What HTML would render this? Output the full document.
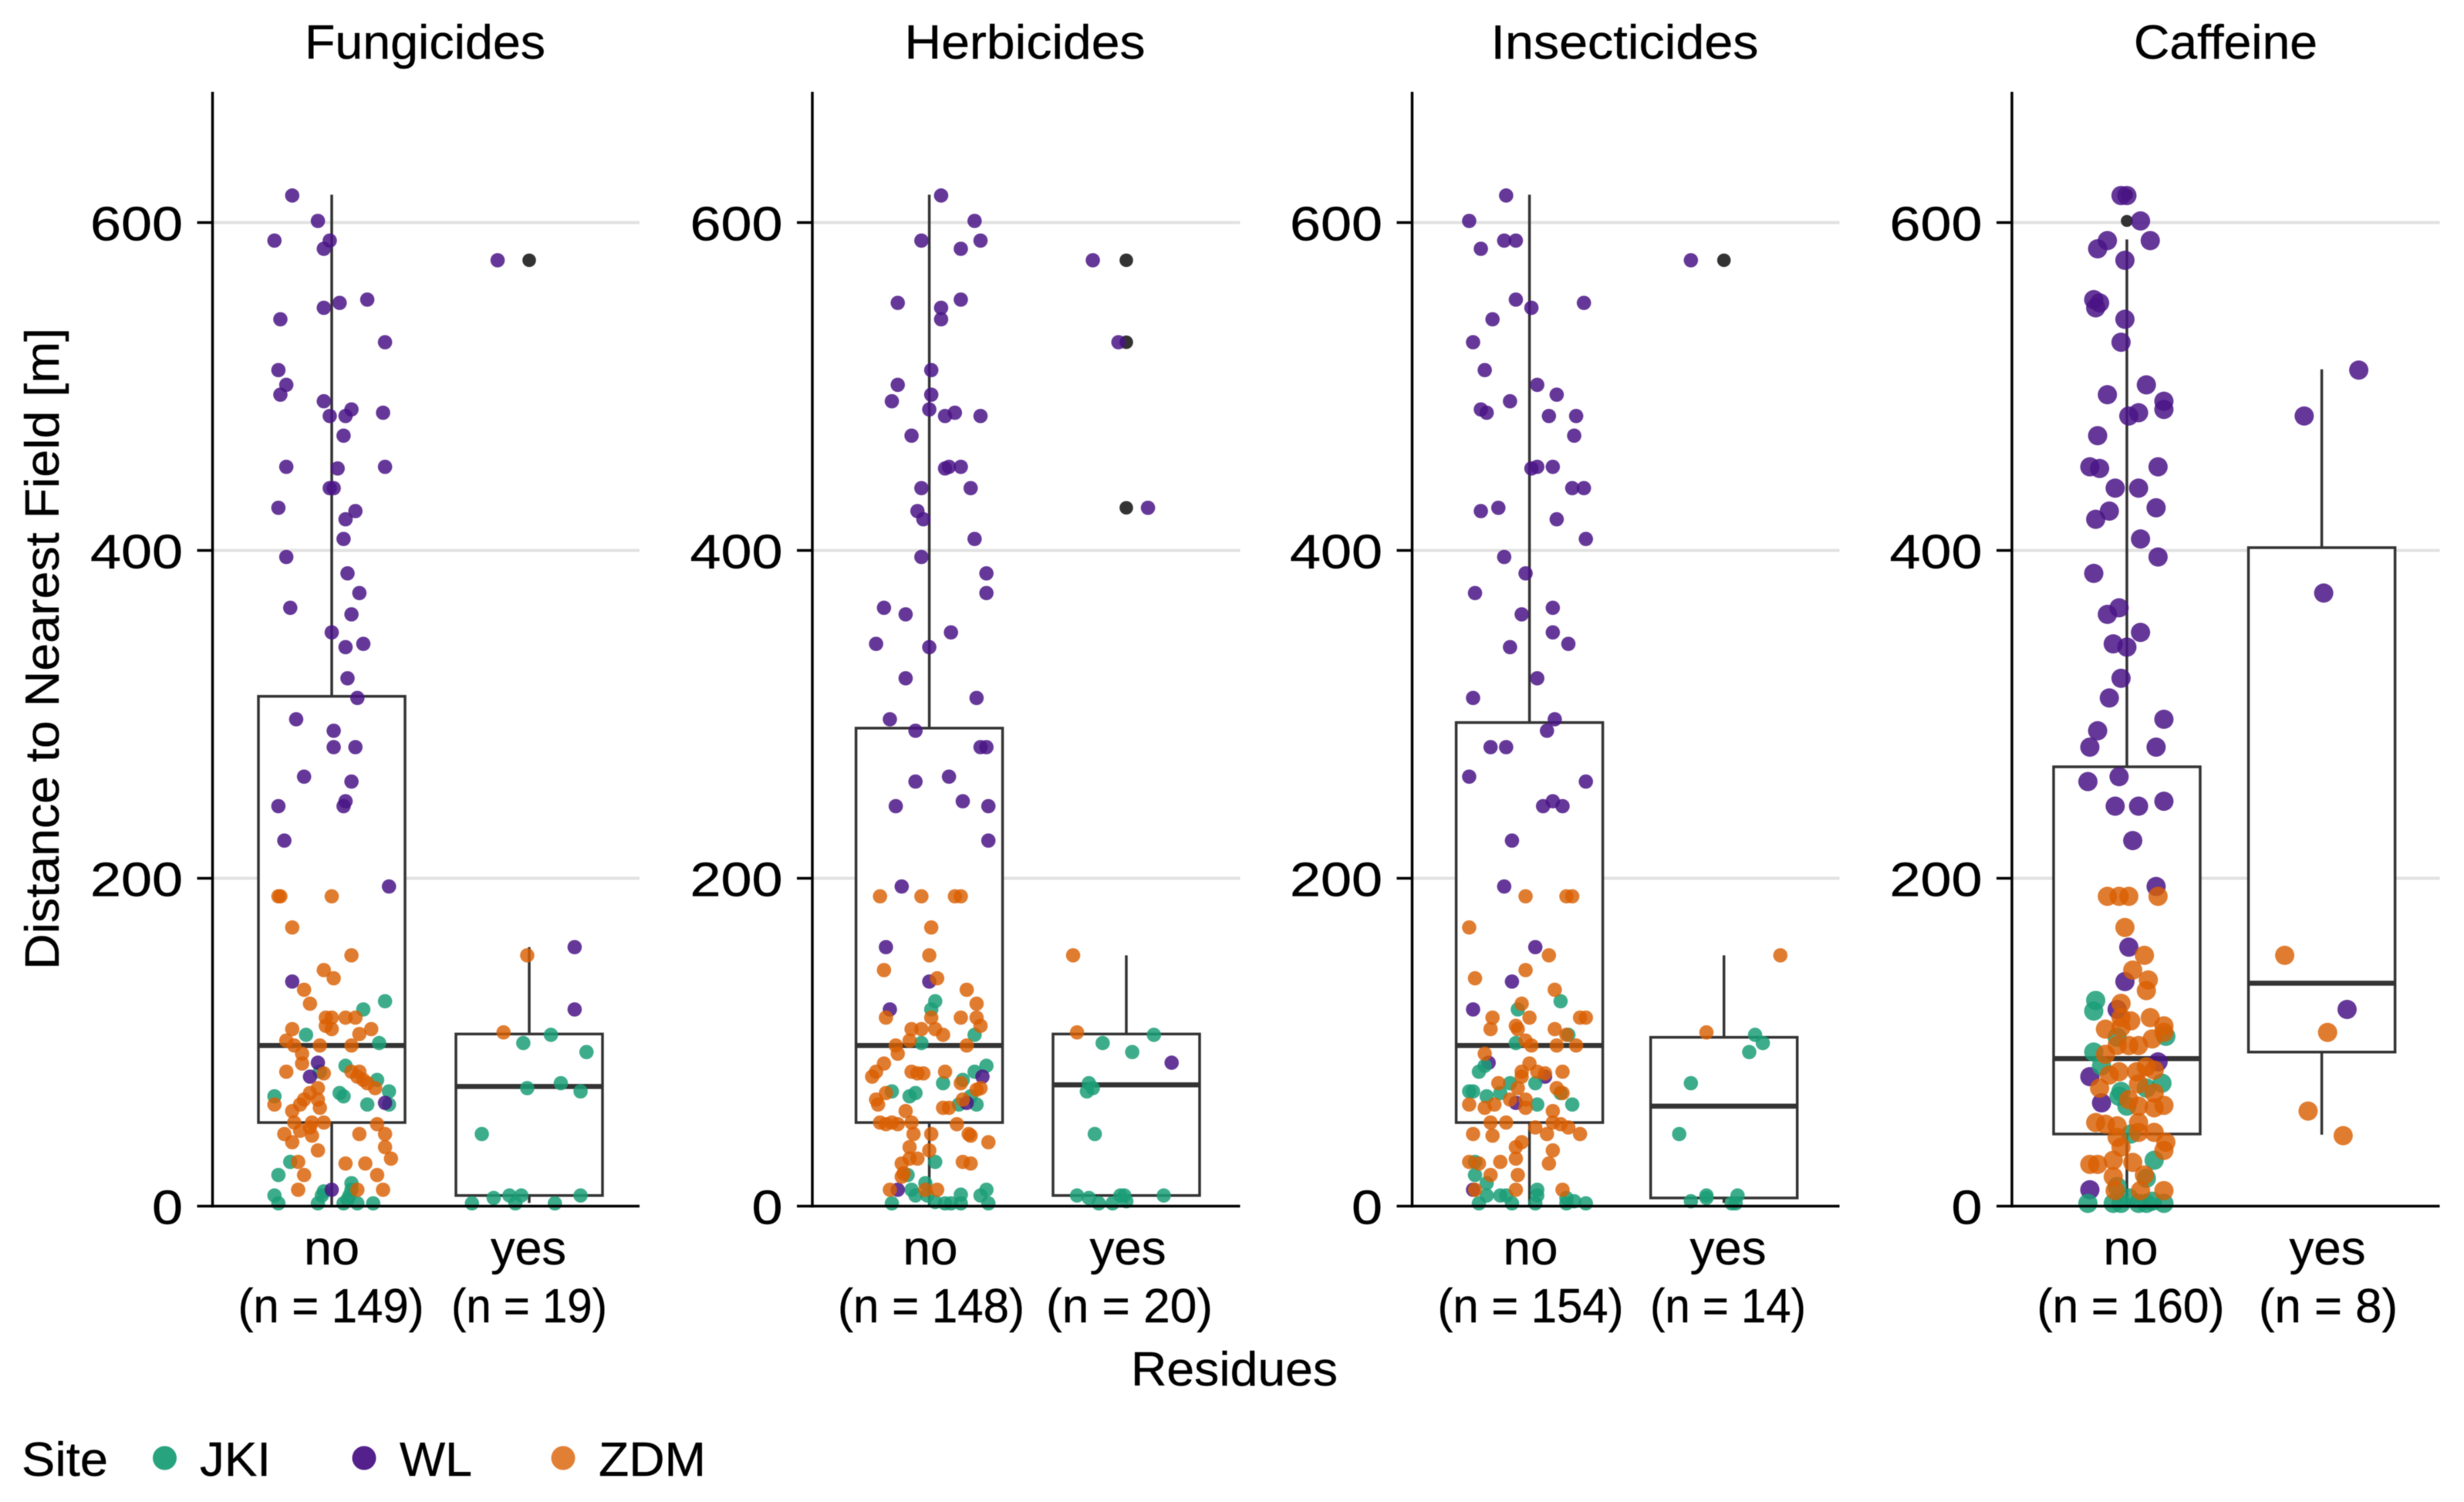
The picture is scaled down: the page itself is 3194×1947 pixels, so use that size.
<!DOCTYPE html>
<html lang="en">
<head>
<meta charset="utf-8">
<title>Distance to Nearest Field by Residues</title>
<style>
html,body{margin:0;padding:0;background:#fff;width:3194px;height:1947px;overflow:hidden}
svg{display:block;filter:blur(0.6px)}
text{font-family:"Liberation Sans",sans-serif;fill:#000;stroke:#000;stroke-width:0.4px;font-size:62px}
</style>
</head>
<body>
<svg id="chart" xmlns="http://www.w3.org/2000/svg" width="3194" height="1947" viewBox="0 0 3194 1947">
  <rect x="0" y="0" width="3194" height="1947" fill="#fff"/>
  <g id="panels"></g>

  <text x="551" y="76" text-anchor="middle" textLength="312" lengthAdjust="spacingAndGlyphs">Fungicides</text>
  <text x="1328.5" y="76" text-anchor="middle" textLength="312" lengthAdjust="spacingAndGlyphs">Herbicides</text>
  <text x="2106" y="76" text-anchor="middle" textLength="347" lengthAdjust="spacingAndGlyphs">Insecticides</text>
  <text x="2885" y="76" text-anchor="middle" textLength="238" lengthAdjust="spacingAndGlyphs">Caffeine</text>

  <text x="0" y="0" transform="translate(76 841) rotate(-90)" text-anchor="middle" textLength="832" lengthAdjust="spacingAndGlyphs">Distance to Nearest Field [m]</text>

  <text x="430" y="1639" text-anchor="middle" textLength="72" lengthAdjust="spacingAndGlyphs">no</text>
  <text x="685" y="1639" text-anchor="middle" textLength="98" lengthAdjust="spacingAndGlyphs">yes</text>
  <text x="429" y="1714" text-anchor="middle" textLength="241" lengthAdjust="spacingAndGlyphs">(n = 149)</text>
  <text x="686" y="1714" text-anchor="middle" textLength="202" lengthAdjust="spacingAndGlyphs">(n = 19)</text>

  <text x="1206" y="1639" text-anchor="middle" textLength="71" lengthAdjust="spacingAndGlyphs">no</text>
  <text x="1462" y="1639" text-anchor="middle" textLength="99" lengthAdjust="spacingAndGlyphs">yes</text>
  <text x="1207" y="1714" text-anchor="middle" textLength="242" lengthAdjust="spacingAndGlyphs">(n = 148)</text>
  <text x="1464" y="1714" text-anchor="middle" textLength="216" lengthAdjust="spacingAndGlyphs">(n = 20)</text>

  <text x="1984" y="1639" text-anchor="middle" textLength="71" lengthAdjust="spacingAndGlyphs">no</text>
  <text x="2240" y="1639" text-anchor="middle" textLength="99" lengthAdjust="spacingAndGlyphs">yes</text>
  <text x="1984" y="1714" text-anchor="middle" textLength="241" lengthAdjust="spacingAndGlyphs">(n = 154)</text>
  <text x="2240" y="1714" text-anchor="middle" textLength="202" lengthAdjust="spacingAndGlyphs">(n = 14)</text>

  <text x="2762" y="1639" text-anchor="middle" textLength="71" lengthAdjust="spacingAndGlyphs">no</text>
  <text x="3017" y="1639" text-anchor="middle" textLength="99" lengthAdjust="spacingAndGlyphs">yes</text>
  <text x="2762" y="1714" text-anchor="middle" textLength="243" lengthAdjust="spacingAndGlyphs">(n = 160)</text>
  <text x="3018" y="1714" text-anchor="middle" textLength="180" lengthAdjust="spacingAndGlyphs">(n = 8)</text>

  <text x="1600" y="1796" text-anchor="middle" textLength="268" lengthAdjust="spacingAndGlyphs">Residues</text>

  <g>
    <text x="28" y="1913" textLength="112" lengthAdjust="spacingAndGlyphs">Site</text>
    <circle cx="213.5" cy="1890" r="15.5" fill="#1b9e77" fill-opacity="0.95"/>
    <text x="259" y="1913" textLength="92" lengthAdjust="spacingAndGlyphs">JKI</text>
    <circle cx="472" cy="1890" r="15.5" fill="#4a1486" fill-opacity="0.95"/>
    <text x="518" y="1913" textLength="94" lengthAdjust="spacingAndGlyphs">WL</text>
    <circle cx="730" cy="1890" r="15.5" fill="#d95f02" fill-opacity="0.8"/>
    <text x="776" y="1913" textLength="139" lengthAdjust="spacingAndGlyphs">ZDM</text>
  </g>
</svg>

<script>
// ---------- DATA: y axis ticks ----------
const yTickValues = [0, 200, 400, 600];

// ---------- DATA: box statistics [low whisker, q1, median, q3, high whisker] ----------
const fungicidesNoBox = [0, 51, 98, 311, 617];
const fungicidesYesBox = [2, 6.5, 73, 105, 158];
const herbicidesNoBox = [0, 51, 98, 291.6, 617];
const herbicidesYesBox = [2, 6.5, 74, 105, 153];
const insecticidesNoBox = [0, 51, 98, 295, 617];
const insecticidesYesBox = [2, 5, 61, 103, 153];
const caffeineNoBox = [0, 44, 90, 268, 589.7];
const caffeineYesBox = [43.6, 94, 136, 401.7, 510.5];

// ---------- DATA: box outliers (metres) ----------
const fungicidesNoOutliers = [];
const fungicidesYesOutliers = [577];
const herbicidesNoOutliers = [];
const herbicidesYesOutliers = [577, 527, 426];
const insecticidesNoOutliers = [];
const insecticidesYesOutliers = [577];
const caffeineNoOutliers = [617, 601];
const caffeineYesOutliers = [];

// ---------- DATA: samples as [jitter in category units, distance in metres] ----------
const fungicidesNoWL = [[-0.20,616.5],[-0.07,601],[-0.29,589],[-0.01,589],[-0.04,584],[0.18,553],[0.04,551],[-0.04,548],[-0.26,541],[0.27,527],[-0.27,510],[-0.23,501],[-0.26,495],[-0.04,491],[0.10,486],[0.26,484],[-0.01,482],[0.07,482],[0.06,470],[-0.23,451],[0.27,451],[0.03,450],[-0.01,438],[0.01,438],[-0.27,426],[0.12,424],[0.07,419],[0.06,407],[-0.23,396],[0.08,386],[0.14,374],[-0.21,365],[0.10,361],[0,350],[0.16,343],[0.07,341],[0.08,322],[0.13,310],[-0.18,297],[0.01,290],[0.01,280],[0.12,280],[-0.14,262],[0.10,259],[0.07,247],[0.06,244],[-0.27,244],[-0.24,223],[0.29,195],[-0.20,137],[-0.07,87.5],[-0.11,79],[0.27,63],[0,10]];
const fungicidesYesWL = [[-0.16,577],[0.23,158],[0.23,120]];
const fungicidesNoZDM = [[-0.27,189],[-0.26,189],[0,189],[-0.20,170],[0.10,153],[-0.04,144],[0.01,139],[-0.14,132],[-0.11,123.5],[-0.03,115],[0,115],[0.07,115],[0.12,115],[-0.03,110],[-0.20,108],[0,108],[0.20,108],[0.14,105],[-0.23,101],[-0.06,98],[0.10,98],[-0.19,98],[-0.15,93],[-0.15,87],[-0.23,82],[0.10,82],[0.14,82],[0.13,79],[-0.04,81],[0.16,77],[0.18,75],[0.22,72],[-0.07,72],[-0.11,69],[-0.14,65],[-0.07,65],[-0.29,62],[-0.16,62],[-0.06,60],[-0.20,58],[-0.19,51],[-0.10,51],[-0.04,51],[0.23,50],[-0.16,46],[-0.11,48],[-0.24,44],[0.14,44],[0.27,44],[-0.10,43],[-0.20,39],[0.27,36],[-0.07,34],[0.30,29],[-0.17,27],[0.07,26],[0.17,26],[-0.14,19],[0.23,19],[-0.17,10],[0.13,10],[0.26,10]];
const fungicidesYesZDM = [[-0.01,153],[-0.13,106]];
const fungicidesNoJKI = [[0.27,125],[0.16,120],[-0.13,104.5],[0.24,99.5],[0.07,85.6],[-0.06,82],[0.23,77],[0.29,70],[0.04,69],[0.06,67],[-0.29,67],[0.18,62],[0.29,62],[-0.21,27],[-0.27,19],[0.10,14],[-0.29,6.5],[-0.04,9],[0.10,10],[-0.05,6.5],[0.09,6.5],[-0.27,1.7],[-0.07,1.7],[0.06,1.7],[0.13,1.7],[0.21,1.7],[0.08,4]];
const fungicidesYesJKI = [[0.11,104.5],[-0.03,99.5],[0.29,94],[0.16,75],[-0.01,72],[0.26,70],[-0.24,44],[-0.18,5],[-0.10,6.5],[-0.04,6.5],[0.26,6.5],[-0.29,1.7],[-0.07,1.7],[0.13,1.7]];

const herbicidesNoWL = [[0.06,616.5],[0.23,601],[-0.04,589],[0.26,589],[0.16,584],[0.16,553],[-0.16,551],[0.06,548],[0.06,541],[0.01,510],[-0.16,501],[0.01,495],[-0.19,491],[0,486],[0.13,484],[0.08,482],[0.26,482],[-0.09,470],[0.16,451],[0.10,451],[0.08,450],[-0.04,438],[0.21,438],[-0.06,424],[-0.03,419],[0.23,407],[-0.04,396],[0.29,386],[0.29,374],[-0.23,365],[-0.12,361],[0.11,350],[-0.27,343],[0,341],[-0.12,322],[0.24,310],[-0.20,297],[-0.07,290],[0.26,280],[0.29,280],[0.10,262],[-0.07,259],[0.17,247],[-0.17,244],[0.30,244],[0.30,223],[-0.14,195],[-0.22,158],[0,137],[-0.20,120],[0.27,79],[0.19,63],[-0.16,10]];
const herbicidesYesWL = [[-0.17,577],[-0.04,527],[0.11,426],[0.23,87.5]];
const herbicidesNoZDM = [[-0.25,189],[-0.04,189],[0.13,189],[0.16,189],[0.01,170],[0,153],[-0.23,144],[0.04,139],[0.19,132],[0.24,123.5],[-0.22,115],[0.01,115],[0.16,115],[0.24,115],[0.26,110],[-0.09,108],[-0.04,108],[0.03,108],[0.07,104.5],[-0.10,101],[-0.17,98],[0.19,98],[-0.16,93],[-0.23,87],[-0.27,82],[-0.09,82],[-0.06,81],[0.08,82],[-0.29,79],[-0.03,81],[0.16,75],[0.26,72],[0.24,71],[-0.22,69],[-0.27,65],[0.17,65],[-0.26,62],[0.07,60],[0.10,60],[-0.12,58],[-0.25,51],[-0.19,51],[-0.22,50],[-0.16,50],[-0.09,51],[0.14,50],[-0.08,44],[0.01,44],[0.20,44],[0.21,43],[0.30,39],[-0.10,36],[0,34],[-0.10,29],[-0.06,29],[-0.14,26],[0.17,27],[0.21,26],[-0.13,20],[-0.14,18],[-0.20,10],[-0.02,10],[0.04,10]];
const herbicidesYesZDM = [[-0.27,153],[-0.25,106]];
const herbicidesNoJKI = [[0.03,125],[0.01,120],[0.23,104.5],[-0.04,99.5],[0.29,85.6],[0.23,82],[0.17,77],[0.07,75],[-0.19,70],[-0.07,69],[-0.10,67],[0.21,67],[0.24,62],[0.15,62],[0.03,27],[-0.11,19],[-0.02,14],[-0.09,10],[0.29,10],[0.16,7],[-0.07,6.5],[0.26,6.5],[-0.01,6.5],[-0.19,1.7],[0.03,2.5],[0.08,1.7],[0.11,1.7],[0.16,1.7],[0.30,1.7]];
const herbicidesYesJKI = [[0.14,104.5],[-0.12,99.5],[0.03,94],[-0.19,75],[-0.17,72],[-0.20,70],[-0.16,44],[-0.25,6.5],[-0.19,5],[-0.03,6.5],[0.19,6.5],[-0.14,1.7],[-0.07,1.7],[0,3],[-0.01,6.5]];

const insecticidesNoWL = [[-0.12,616.5],[-0.31,601],[-0.13,589],[-0.07,589],[-0.25,584],[-0.07,553],[0.28,551],[0.01,548],[-0.19,541],[-0.29,527],[-0.23,510],[0.04,501],[0.14,495],[-0.10,491],[-0.25,486],[-0.22,484],[0.10,482],[0.24,482],[0.23,470],[0.04,451],[0.12,451],[0.01,450],[0.22,438],[0.28,438],[-0.16,426],[-0.25,424],[0.14,419],[0.29,407],[-0.13,396],[-0.02,386],[-0.28,374],[0.12,365],[-0.04,361],[0.12,350],[0.20,343],[-0.10,341],[0.04,322],[-0.29,310],[0.13,297],[0.09,290],[-0.20,280],[-0.12,280],[-0.31,262],[0.29,259],[0.12,247],[0.07,244],[0.17,244],[-0.09,223],[-0.13,195],[0.03,158],[-0.09,137],[-0.29,120],[-0.21,87.5],[0.08,79],[-0.07,63],[-0.29,10]];
const insecticidesYesWL = [[-0.17,577]];
const insecticidesNoZDM = [[-0.02,189],[0.19,189],[0.22,189],[-0.31,170],[0.10,153],[-0.02,144],[-0.28,139],[0.13,132],[-0.04,123.5],[-0.19,115],[0,115],[0.26,115],[0.29,115],[-0.20,108],[-0.07,110],[-0.06,108],[0.13,108],[0.19,104.5],[-0.02,101],[0.01,98],[0.14,98],[0.24,98],[-0.23,93],[0,87],[-0.04,82],[0.04,82],[0.17,82],[0.08,81],[-0.04,79],[-0.16,75],[-0.06,72],[0.14,72],[0.17,69],[-0.10,65],[-0.02,65],[-0.31,62],[-0.23,60],[-0.18,62],[-0.02,60],[0.12,58],[-0.20,51],[-0.12,51],[0.12,51],[0.16,50],[0.20,48],[0.03,48],[-0.29,44],[0.09,44],[0.26,44],[-0.19,43],[-0.04,39],[-0.07,36],[0.12,34],[-0.31,27],[-0.15,27],[-0.07,29],[-0.26,26],[0.10,26],[-0.20,19],[-0.06,19],[-0.28,10],[-0.07,10],[0.17,10]];
const insecticidesYesZDM = [[0.29,153],[-0.09,106]];
const insecticidesNoJKI = [[0.16,125],[-0.06,120],[0.20,104.5],[-0.07,99.5],[-0.23,85.6],[-0.26,82],[0.03,75],[-0.10,75],[-0.31,70],[-0.29,70],[-0.15,69],[-0.22,67],[0.16,69],[0.04,62],[0.22,62],[-0.28,27],[-0.28,19],[-0.22,14],[0.04,10],[0.04,6.5],[-0.22,6.5],[-0.15,6.5],[-0.12,6.5],[0.19,5],[0.23,3],[-0.26,1.7],[-0.09,1.7],[0.03,1.7],[0.19,1.7],[0.29,1.7]];
const insecticidesYesJKI = [[0.16,104.5],[0.20,99.5],[0.13,94],[-0.17,75],[-0.23,44],[0.07,6.5],[-0.09,6.5],[-0.17,3],[0.04,1.7],[0.06,1.7],[-0.09,5]];

const caffeineNoWL = [[-0.03,616.5],[0,616.5],[0.07,601],[-0.10,589],[0.12,589],[-0.15,584],[-0.01,577],[-0.17,553],[-0.14,551],[-0.16,548],[-0.01,541],[-0.03,527],[0.10,501],[-0.10,495],[0.19,491],[0.06,484],[0.19,486],[0.01,482],[-0.15,470],[-0.19,451],[0.16,451],[-0.14,450],[-0.06,438],[0.06,438],[0.15,426],[-0.09,424],[-0.16,419],[0.07,407],[0.16,396],[-0.17,386],[-0.04,365],[-0.10,361],[0.07,350],[-0.07,343],[0,341],[-0.03,322],[-0.09,310],[0.19,297],[-0.15,290],[-0.19,280],[0.15,280],[-0.20,259],[-0.04,262],[0.19,247],[-0.06,244],[0.06,244],[0.03,223],[0.15,195],[0.01,158],[-0.01,137],[-0.05,120],[-0.19,79],[0.16,88],[-0.13,63],[-0.19,10]];
const caffeineYesWL = [[0.19,510],[-0.09,482],[0.01,374],[0.13,120]];
const caffeineNoZDM = [[-0.10,189],[-0.04,189],[0.01,189],[0.16,189],[-0.01,170],[0.09,153],[0.03,144],[0.11,138],[0.10,131.5],[-0.03,123.7],[-0.11,108],[-0.03,115],[0.02,113],[-0.03,109],[0.12,115],[0.19,110],[0.19,106],[-0.05,98],[-0.11,92.6],[0.01,98],[0.06,98],[0.13,102],[-0.04,82],[-0.09,80],[-0.14,72],[0.05,82],[0.10,85],[0.14,83],[0.06,74.6],[0.14,69],[0.01,65],[0.06,61],[0.14,60],[0.19,61.5],[-0.16,51],[-0.11,50],[-0.05,49],[-0.05,42],[0.06,51],[0.06,45],[0.14,45],[0.20,39],[0.19,34],[-0.03,36],[-0.07,28],[0.03,26.7],[-0.19,25.5],[-0.15,25.5],[-0.07,18],[0.09,19],[-0.06,9.5],[0.07,9.5],[0.19,9.5]];
const caffeineYesZDM = [[-0.19,153],[0.03,106],[-0.07,58],[0.11,43]];
const caffeineNoJKI = [[-0.16,125.5],[-0.17,119],[-0.05,103],[0.20,103.6],[-0.17,94],[-0.13,85.5],[0.18,75],[-0.03,70],[0.10,72],[-0.04,67],[0,61],[0.02,44],[0.14,28],[0.10,17],[-0.05,12],[-0.20,1.7],[-0.07,1.7],[-0.03,1.7],[0.01,5],[0.06,1.7],[0.10,1.7],[0.13,3],[0.19,1.7]];
const caffeineYesJKI = [];

// ---------- LAYOUT ----------
const SVGNS = 'http://www.w3.org/2000/svg';
const Y_ZERO = 1563.5, PX_PER_UNIT = 2.125, AXIS_TOP = 119, BOX_HALF = 95;
const INK = '#333333';
const siteColors = { JKI: '#1b9e77', WL: '#4a1486', ZDM: '#d95f02' };
const panelLayouts = [
  { name: 'fungicides', left: 275.5, right: 829, xNo: 430, xYes: 686, r: 9.3, outlierR: 8.8, order: ['JKI', 'WL', 'ZDM'] },
  { name: 'herbicides', left: 1053, right: 1607.5, xNo: 1204.6, xYes: 1460, r: 9.3, outlierR: 8.8, order: ['JKI', 'WL', 'ZDM'] },
  { name: 'insecticides', left: 1830.5, right: 2384.5, xNo: 1982.6, xYes: 2234.7, r: 9.3, outlierR: 8.8, order: ['WL', 'JKI', 'ZDM'] },
  { name: 'caffeine', left: 2608, right: 3162.5, xNo: 2757, xYes: 3009.6, r: 12.5, outlierR: 7.8, order: ['WL', 'JKI', 'ZDM'] }
];
const panelData = [
  { no: { box: fungicidesNoBox, outliers: fungicidesNoOutliers, JKI: fungicidesNoJKI, WL: fungicidesNoWL, ZDM: fungicidesNoZDM },
    yes: { box: fungicidesYesBox, outliers: fungicidesYesOutliers, JKI: fungicidesYesJKI, WL: fungicidesYesWL, ZDM: fungicidesYesZDM } },
  { no: { box: herbicidesNoBox, outliers: herbicidesNoOutliers, JKI: herbicidesNoJKI, WL: herbicidesNoWL, ZDM: herbicidesNoZDM },
    yes: { box: herbicidesYesBox, outliers: herbicidesYesOutliers, JKI: herbicidesYesJKI, WL: herbicidesYesWL, ZDM: herbicidesYesZDM } },
  { no: { box: insecticidesNoBox, outliers: insecticidesNoOutliers, JKI: insecticidesNoJKI, WL: insecticidesNoWL, ZDM: insecticidesNoZDM },
    yes: { box: insecticidesYesBox, outliers: insecticidesYesOutliers, JKI: insecticidesYesJKI, WL: insecticidesYesWL, ZDM: insecticidesYesZDM } },
  { no: { box: caffeineNoBox, outliers: caffeineNoOutliers, JKI: caffeineNoJKI, WL: caffeineNoWL, ZDM: caffeineNoZDM },
    yes: { box: caffeineYesBox, outliers: caffeineYesOutliers, JKI: caffeineYesJKI, WL: caffeineYesWL, ZDM: caffeineYesZDM } }
];

// ---------- AXIS FUNCTIONS ----------
function yScale(value) { return Y_ZERO - value * PX_PER_UNIT; }
function xScale(layout, position) { return layout.xNo + (position - 1) * (layout.xYes - layout.xNo); }

function shape(parent, tag, attrs) {
  const el = document.createElementNS(SVGNS, tag);
  for (const k in attrs) el.setAttribute(k, attrs[k]);
  parent.appendChild(el);
  return el;
}

const root = document.getElementById('panels');

panelLayouts.forEach(function (layout, panelIndex) {
  const data = panelData[panelIndex];
  const g = shape(root, 'g', {});
  
  

  // gridlines
  yTickValues.forEach(function (tick) {
    if (tick === 0) return;
    const grid = shape(g, 'line', { x1: layout.left, x2: layout.right, y1: yScale(tick), y2: yScale(tick), stroke: '#e2e2e2', 'stroke-width': 4 });
    
    
  });

  // boxes and whiskers, with outliers
  ['no', 'yes'].forEach(function (category, catIndex) {
    const group = data[category];
    const stats = group.box;
    const cx = xScale(layout, catIndex + 1);
    const whiskerUp = shape(g, 'line', { x1: cx, x2: cx, y1: yScale(stats[3]), y2: yScale(stats[4]), stroke: INK, 'stroke-width': 3.5 });
    
    
    const whiskerDown = shape(g, 'line', { x1: cx, x2: cx, y1: yScale(stats[1]), y2: yScale(stats[0]), stroke: INK, 'stroke-width': 3.5 });
    
    
    const box = shape(g, 'rect', { x: cx - BOX_HALF, width: BOX_HALF * 2, y: yScale(stats[3]), height: yScale(stats[1]) - yScale(stats[3]), fill: '#fff', stroke: INK, 'stroke-width': 3.5 });
    
    
    const median = shape(g, 'line', { x1: cx - BOX_HALF, x2: cx + BOX_HALF, y1: yScale(stats[2]), y2: yScale(stats[2]), stroke: INK, 'stroke-width': 6.5 });
    
    
    group.outliers.forEach(function (value) {
      const o = shape(g, 'circle', { cx: cx, cy: yScale(value), r: layout.outlierR, fill: INK });
      
      
    });
  });

  // jittered points
  ['no', 'yes'].forEach(function (category, catIndex) {
    const group = data[category];
    layout.order.forEach(function (site) {
      group[site].forEach(function (sample) {
        const pt = shape(g, 'circle', {
          cx: xScale(layout, catIndex + 1 + sample[0]),
          cy: yScale(sample[1]),
          r: layout.r,
          fill: siteColors[site],
          'fill-opacity': site === 'ZDM' ? 0.82 : 0.85
        });
        
        
      });
    });
  });

  // y axis, ticks and tick labels
  yTickValues.forEach(function (tick) {
    const mark = shape(g, 'line', { x1: layout.left - 20, x2: layout.left, y1: yScale(tick), y2: yScale(tick), stroke: '#000', 'stroke-width': 3.5 });
    
    
    const label = shape(g, 'text', { x: layout.left - 38.5, y: yScale(tick) + 23, 'text-anchor': 'end', textLength: String(tick).length * 40, lengthAdjust: 'spacingAndGlyphs' });
    label.textContent = String(tick);
    
    
  });
  const yAxis = shape(g, 'line', { x1: layout.left, x2: layout.left, y1: AXIS_TOP, y2: Y_ZERO + 1.75, stroke: '#000', 'stroke-width': 3.5 });
  
  
  const xAxis = shape(g, 'line', { x1: layout.left, x2: layout.right, y1: Y_ZERO, y2: Y_ZERO, stroke: '#000', 'stroke-width': 3.5 });
  
  
});
</script>
</body>
</html>
